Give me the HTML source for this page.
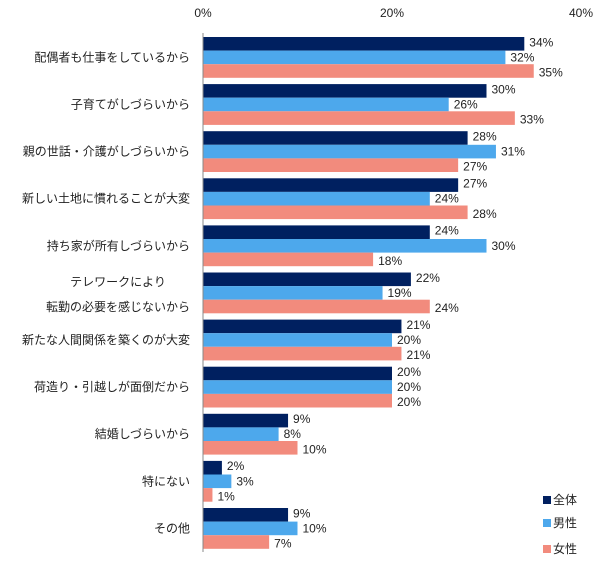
<!DOCTYPE html>
<html><head><meta charset="utf-8"><style>
body{margin:0;background:#fff;}
svg text{font-family:"Liberation Sans","Noto Sans CJK JP",sans-serif;font-size:12px;fill:#222;}
</style></head><body>
<svg id="c" width="603" height="565"></svg>
<script>
const categories=["配偶者も仕事をしているから","子育てがしづらいから","親の世話・介護がしづらいから","新しい土地に慣れることが大変","持ち家が所有しづらいから","テレワークにより\n転勤の必要を感じないから","新たな人間関係を築くのが大変","荷造り・引越しが面倒だから","結婚しづらいから","特にない","その他"];
const seriesNames=["全体","男性","女性"];
const allVals=[34,30,28,27,24,22,21,20,9,2,9];
const maleVals=[32,26,31,24,30,19,20,20,8,3,10];
const femaleVals=[35,33,27,28,18,24,21,20,10,1,7];
const ticks=[0,20,40];
const colors=["#002060","#4DA8EC","#F28B7D"];
const NS="http://www.w3.org/2000/svg";
const svg=document.getElementById('c');
const x0=203,pxPer=9.45,y0=37,pitch=47.1,bh=13.6;
const xs=v=>x0+v*pxPer;
function mk(t,a){const e=document.createElementNS(NS,t);for(const k in a)e.setAttribute(k,a[k]);svg.appendChild(e);return e;}
ticks.forEach(t=>{const e=mk('text',{x:xs(t),y:17,'text-anchor':'middle'});e.textContent=t+'%';

});
const series=[allVals,maleVals,femaleVals];
categories.forEach((c,i)=>{
  const gy=y0+i*pitch;
  series.forEach((s,j)=>{
    const r=mk('rect',{x:x0,y:gy+j*bh,width:xs(s[i])-x0,height:bh,fill:colors[j]});
    
    
    const t=mk('text',{x:xs(s[i])+5,y:gy+j*bh+bh/2+4+ (j-1)*1.5});
    t.textContent=s[i]+'%';
    
    
  });
  const lines=c.split('\n');
  const cy=gy+bh*1.5;
  if(lines.length===1){
    const t=mk('text',{x:190,y:cy+4,'text-anchor':'end'});t.textContent=c;
    
    
  } else {
    lines.forEach((l,k)=>{const t=mk('text',{x:118,y:cy-7+k*25,'text-anchor':'middle'});t.textContent=l;
    
    });
  }
});
const ax=mk('line',{x1:x0,y1:33,x2:x0,y2:552,stroke:'#888','stroke-width':1});


const ly=[500,523,549];
seriesNames.forEach((n,j)=>{
  const r=mk('rect',{x:543,y:ly[j]-4,width:8,height:8,fill:colors[j]});
  
  
  const t=mk('text',{x:553,y:ly[j]+4});t.textContent=n;
  
  
});
</script>
</body></html>
